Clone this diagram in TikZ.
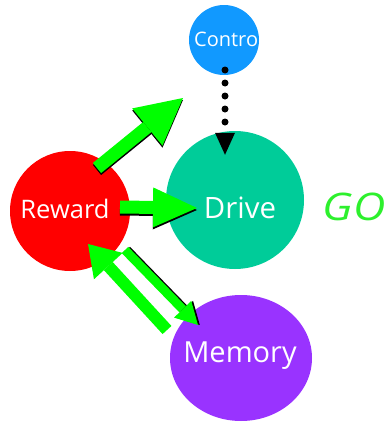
\documentclass[tikz,border=0pt]{standalone}
\usepackage{fontspec}
\setmainfont{Open Sans}
\usetikzlibrary{arrows.meta,calc,shapes.geometric}
\definecolor{ctrlblue}{RGB}{17,153,255}
\definecolor{rewardred}{RGB}{255,0,0}
\definecolor{driveteal}{RGB}{0,204,153}
\definecolor{mempurple}{RGB}{153,51,255}
\definecolor{arrowgreen}{RGB}{0,255,0}
\definecolor{gogreen}{RGB}{45,240,45}
\begin{document}
\begin{tikzpicture}[x=1pt,y=-1pt,
  bubble/.style={circle,inner sep=0pt,draw=none},
  label text/.style={text=white,inner sep=0pt,anchor=base},
  fat arrow/.style n args={3}{line width=#1,
    -{Triangle[width=#2,length=#3,line width=0pt]}},
  green arrow/.style={draw=arrowgreen},
  shadow arrow/.style={draw=black},
  dotted link/.style={draw=black,line width=7pt,line cap=round,
    dash pattern=on 0pt off 13pt,
    -{Triangle[width=20pt,length=22pt,line width=0pt]}}]
\useasboundingbox (0,0) rectangle (385,423);
\clip (0,0) rectangle (385,423);

% the four areas
\node[bubble,fill=rewardred,minimum size=120pt] (reward) at (70,211) {};
\node[bubble,fill=driveteal,minimum size=138pt] (drive) at (235,200) {};
\node[bubble,fill=ctrlblue,minimum size=70pt] (control) at (224,40) {};
\node[ellipse,inner sep=0pt,fill=mempurple,minimum width=142pt,
  minimum height=126pt] (memory) at (241,358) {};

% labels
\node[label text,font=\fontsize{25.5}{25.5}\selectfont] (rewardtext) at (65,218) {Reward};
\node[label text,font=\fontsize{29.4}{29.4}\selectfont] (drivetext) at (240,218) {Drive};
\node[label text,font=\fontsize{29}{29}\selectfont] (memorytext) at (240,362) {Memory};
\begin{scope}
  \clip (control) circle[radius=35pt];
  \node[label text,anchor=base west,font=\fontsize{20}{20}\selectfont]
    (controltext) at (194,46) {Control};
\end{scope}
\node[text=gogreen,inner sep=0pt,anchor=base,
  font=\fontsize{38}{38}\selectfont\itshape] (go) at (354,220)
  {\scalebox{1.18}[1]{GO}};

% arrow end points
\coordinate (rc tail) at ($(reward)+(27,-43)$);
\coordinate (rc tip) at ($(control)+(-41,58)$);
\coordinate (rd tail) at ($(reward)+(50,-4)$);
\coordinate (rd tip) at ($(drive)+(-38,8)$);
\coordinate (mr tail) at ($(memory)+(-74,-28)$);
\coordinate (mr tip) at ($(reward)+(18,33)$);
\coordinate (rm tail) at ($(reward)+(55,39)$);
\coordinate (rm tip) at ($(memory)+(-43,-33)$);

% dotted control link
\draw[dotted link] ($(control)+(1,30)$) -- ($(drive.north)+(-10,24)$);

% shadows
\draw[shadow arrow,fat arrow={13pt}{48pt}{46pt}]
  ([yshift=-2pt]rc tail) -- ([yshift=-2pt]rc tip);
\draw[shadow arrow,fat arrow={13pt}{40pt}{44pt}]
  ([yshift=-2pt]rd tail) -- ([yshift=-2pt]rd tip);
\draw[shadow arrow,fat arrow={9pt}{24pt}{22pt}]
  ([xshift=1.8pt]rm tail) -- ([xshift=1.8pt]rm tip);

% green arrows
\draw[green arrow,fat arrow={13pt}{48pt}{46pt}] (rc tail) -- (rc tip);
\draw[green arrow,fat arrow={13pt}{40pt}{44pt}] (rd tail) -- (rd tip);
\draw[green arrow,fat arrow={12pt}{39pt}{30pt}] (mr tail) -- (mr tip);
\draw[green arrow,fat arrow={9pt}{24pt}{22pt}] (rm tail) -- (rm tip);
\end{tikzpicture}
\end{document}
